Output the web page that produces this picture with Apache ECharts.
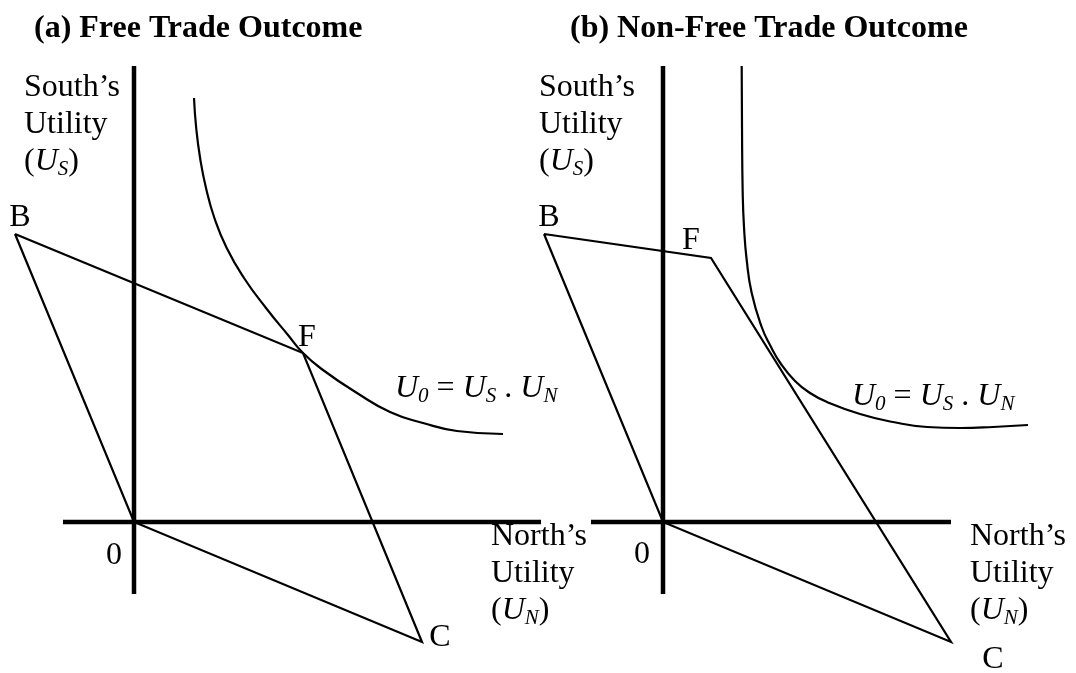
<!DOCTYPE html>
<html>
<head>
<meta charset="utf-8">
<script src="https://cdn.jsdelivr.net/npm/echarts@6/dist/echarts.min.js"></script>
<style>
  html, body { margin: 0; padding: 0; background: #fff; }
  #chart { width: 1076px; height: 673px; }
</style>
</head>
<body>
<div id="chart"></div>
<script>
// Utility-possibility frontiers: North's utility (U_N) across, South's utility (U_S) up.
const panelTitles = ['(a) Free Trade Outcome', '(b) Non-Free Trade Outcome'];
const vertexNames = ['B', 'F', 'C'];
const originPoint = [0, 0];

// Corners B, F, C of each frontier (the fourth corner is the origin)
const freeTradeVertices = [[-11.9, 28.8], [16.9, 16.9], [28.8, -12.0]];
const nonFreeTradeVertices = [[-11.9, 28.8], [4.8, 26.4], [28.8, -12.0]];

// Iso-welfare curve U0 = US . UN in each panel
const isoCurveFree = [
  [6.0, 42.4], [6.22, 39.4], [6.61, 36.4], [7.2, 33.4], [8.04, 30.4], [9.27, 27.4],
  [11.0, 24.4], [13.2, 21.4], [15.4, 18.7], [16.9, 16.9], [18.9, 15.2], [22.3, 12.9],
  [25.6, 11.0], [28.9, 9.9], [32.3, 9.1], [36.9, 8.8]
];
const isoCurveNonFree = [
  [7.87, 45.6], [7.9, 39.5], [7.97, 32.9], [8.1, 29.5], [8.37, 26.2], [8.87, 22.9],
  [9.87, 19.5], [10.7, 17.7], [11.8, 15.8], [13.2, 14.1], [14.7, 12.9], [16.4, 12.0],
  [19.7, 10.8], [23.0, 10.0], [26.4, 9.5], [29.7, 9.4], [33.0, 9.5], [36.5, 9.7]
];

// Drawn extent of the two axes in each panel, [min, max] in utility units
const northAxisRange = [[-7.1, 40.7], [-7.2, 28.8]];
const southAxisRange = [[-7.2, 45.6], [-7.2, 45.6]];

const serif = "'Liberation Serif', 'Times New Roman', serif";
const ink = '#000';

const rich = {
  n: { fontFamily: serif, fontSize: 32, lineHeight: 37, fontWeight: 'normal', color: ink },
  i: { fontFamily: serif, fontSize: 32, lineHeight: 37, fontWeight: 'normal', fontStyle: 'italic', color: ink },
  s: { fontFamily: serif, fontSize: 21, lineHeight: 21, fontWeight: 'normal', fontStyle: 'italic', color: ink, verticalAlign: 'bottom' }
};

// Each panel's plotting box spans its half of the canvas, 10 px per utility unit
const gridBoxes = [
  { left: 0, top: 0, width: 538, height: 673 },
  { left: 538, top: 0, width: 538, height: 673 }
];
const xWindows = [[-13.4, 40.4], [-12.5, 41.3]];
const yWindow = [-15.1, 52.2];

function axisLineSeries(idx) {
  const style = { color: ink, width: 4.5, cap: 'butt' };
  return [
    { type: 'line', xAxisIndex: idx, yAxisIndex: idx, symbol: 'none', silent: true, z: 2,
      data: [[northAxisRange[idx][0], 0], [northAxisRange[idx][1], 0]], lineStyle: style },
    { type: 'line', xAxisIndex: idx, yAxisIndex: idx, symbol: 'none', silent: true, z: 2,
      data: [[0, southAxisRange[idx][0]], [0, southAxisRange[idx][1]]], lineStyle: style }
  ];
}

function frontierSeries(idx, vertices) {
  const [b, f, c] = vertices;
  return {
    type: 'line', xAxisIndex: idx, yAxisIndex: idx,
    data: [b, f, c, originPoint, b],
    symbol: 'none', silent: true, z: 3,
    lineStyle: { color: ink, width: 2.2, join: 'miter', miterLimit: 20 }
  };
}

function curveSeries(idx, pts) {
  return {
    type: 'line', xAxisIndex: idx, yAxisIndex: idx,
    data: pts, smooth: 0.5, symbol: 'none', silent: true, z: 3,
    lineStyle: { color: ink, width: 2.2 }
  };
}

function labelSeries(idx, vertices, offsets, zeroOffset) {
  const data = vertices.map((v, k) => ({ value: v, name: vertexNames[k], label: { offset: offsets[k] } }));
  data.push({ value: originPoint, name: '0', label: { offset: zeroOffset } });
  return {
    type: 'scatter', xAxisIndex: idx, yAxisIndex: idx,
    data: data, symbolSize: 0, silent: true, z: 4,
    itemStyle: { color: ink },
    label: {
      show: true, position: [0, 0], formatter: '{b}', opacity: 1,
      fontFamily: serif, fontSize: 32, fontWeight: 'normal', color: ink,
      align: 'center', verticalAlign: 'middle'
    }
  };
}

function axisPair(idx) {
  const common = {
    gridIndex: idx, type: 'value',
    axisLine: { show: false }, axisTick: { show: false },
    axisLabel: { show: false }, splitLine: { show: false }
  };
  return [
    Object.assign({}, common, { min: xWindows[idx][0], max: xWindows[idx][1] }),
    Object.assign({}, common, { min: yWindow[0], max: yWindow[1] })
  ];
}

const axesA = axisPair(0), axesB = axisPair(1);

const southLabel = '{n|South’s}\n{n|Utility}\n{n|(}{i|U}{s|S}{n|)}';
const northLabel = '{n|North’s}\n{n|Utility}\n{n|(}{i|U}{s|N}{n|)}';
const welfareLabel = '{i|U}{s|0}{n| = }{i|U}{s|S}{n| . }{i|U}{s|N}';

function textBlock(text, left, top) {
  return {
    text: text, left: left, top: top, padding: 0,
    textStyle: { rich: rich, fontFamily: serif, fontSize: 32, fontWeight: 'normal', lineHeight: 37, color: ink }
  };
}

function headline(text, left) {
  return {
    text: text, left: left, top: 13, padding: 0,
    textStyle: { fontFamily: serif, fontSize: 32, fontWeight: 'bold', color: ink, lineHeight: 32 }
  };
}

const option = {
  animation: false,
  backgroundColor: '#fff',
  title: [
    headline(panelTitles[0], 34),
    headline(panelTitles[1], 570),
    textBlock(southLabel, 24, 69),
    textBlock(southLabel, 539, 69),
    textBlock(northLabel, 491, 518),
    textBlock(northLabel, 970, 518),
    textBlock(welfareLabel, 395, 370),
    textBlock(welfareLabel, 852, 378)
  ],
  grid: gridBoxes,
  xAxis: [axesA[0], axesB[0]],
  yAxis: [axesA[1], axesB[1]],
  series: [
    ...axisLineSeries(0),
    frontierSeries(0, freeTradeVertices),
    curveSeries(0, isoCurveFree),
    labelSeries(0, freeTradeVertices, [[5, -16], [4, -15], [18, -4]], [-20, 34]),
    ...axisLineSeries(1),
    frontierSeries(1, nonFreeTradeVertices),
    curveSeries(1, isoCurveNonFree),
    labelSeries(1, nonFreeTradeVertices, [[5, -16], [-20, -17], [42, 18]], [-21, 33])
  ]
};

const chart = echarts.init(document.getElementById('chart'), null, { renderer: 'canvas' });
chart.setOption(option);
</script>
</body>
</html>
